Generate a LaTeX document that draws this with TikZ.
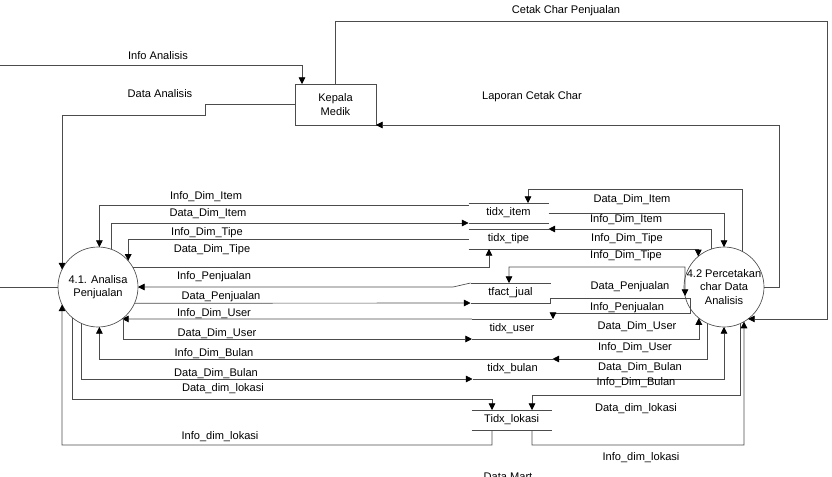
\documentclass[tikz,border=0pt]{standalone}
\usepackage{fontspec}
\setmainfont{Liberation Sans}
\usetikzlibrary{positioning,arrows.meta}

\begin{document}
\begin{tikzpicture}
[x=0.75pt,y=-0.75pt,
 every node/.style={font=\fontsize{8.3}{10}\selectfont,inner sep=0pt,outer sep=0pt,align=center},
 proc/.style={circle,draw=black!70,line width=0.5pt,minimum size=60pt,inner sep=-3pt},
 ent/.style={rectangle,draw=black!70,line width=0.5pt,minimum width=60.75pt,minimum height=30.75pt},
 store/.style={rectangle,minimum width=60pt,minimum height=15pt},
 wire/.style={draw=black!70,line width=0.5pt},
 flow/.style={wire,-{Triangle[length=5pt,width=5pt,color=black]}},
 flow2/.style={wire,{Triangle[length=5pt,width=5pt,color=black]}-{Triangle[length=5pt,width=5pt,color=black]}}]

\useasboundingbox (0,0) rectangle (832,476);

% entity and processes
\node[ent]  (km)  at (335.5,104.5) {Kepala\\Medik};
\node[proc] (p41) at (98,287)      {4.1. Analisa\\Penjualan};
\node[proc] (p42) at (724,287)     {4.2 Percetakan\\char Data\\Analisis};

% data stores
\node[store] (ti) at (508.5,213)                                   {tidx\_item};
\node[store] (tt) [on grid,below=19.5pt of ti]                     {tidx\_tipe};
\node[store] (tf) [on grid,below right=40.5pt and 1.5pt of tt]     {tfact\_jual};
\node[store] (tu) [on grid,below right=27pt and 1.1pt of tf]       {tidx\_user};
\node[store] (tb) [on grid,below right=30pt and 0.4pt of tu]       {tidx\_bulan};
\node[store] (tl) [on grid,below left=38.25pt and 0.6pt of tb]     {Tidx\_lokasi};

\draw[wire] (ti.north west) -- (ti.north east) (ti.south west) -- (ti.south east);
\draw[wire] (tt.north west) -- (tt.north east) (tt.south west) -- (tt.south east);
\draw[wire] (tf.north west) -- (tf.north east) (tf.south west) -- (tf.south east);
\draw[wire] (tu.north west) -- (tu.north east) (tu.south west) -- (tu.south east);
\draw[wire] (tb.north west) -- (tb.north east) (tb.south west) -- (tb.south east);
\draw[wire] (tl.north west) -- (tl.north east) (tl.south west) -- (tl.south east);

\coordinate (inA) at (0,65);
\coordinate (inP) at (0,287);

% Kepala Medik
\draw[flow] (inA) -| (302,0 |- km.north);
\draw[flow] (km.west) -| (205,115) -| (p41.154);
\draw[wire] (inP) -- (p41.west);
\draw[flow] (km.north) |- (827,21) |- (p42.-53);
\draw[flow] (p42.east) -| (779,125) -- (km.south east);

% 4.1 and the stores
\draw[flow] ([yshift=-1.5pt]ti.north west) -| (p41.88);
\draw[flow] (p41.70) |- (ti.south west);
\draw[flow] (tt.west) -| (p41.41);
\draw[flow] (p41.30) -| (489,0 |- tt.south);
\draw[flow] (tf.north west) -- (453,287) -- (p41.east);
\draw[flow] (p41.-24) -- (tf.south west);
\draw[flow] (tu.north west) -- (p41.-53);
\draw[flow] (p41.-50) |- (tu.south west);
\draw[flow] (tb.north west) -| (p41.-88);
\draw[flow] (p41.-115) |- (tb.south west);
\draw[flow] (p41.-130) |- (492,399) -- (492,0 |- tl.north);
\draw[flow] (492,0 |- tl.south) |- (62,445) -- (p41.-154);

% 4.2 and the stores
\draw[flow]  (p42.62) |- (528,189) -- (528,0 |- ti.north);
\draw[flow]  (ti.east) -| (p42.north);
\draw[flow]  (p42.109) |- (tt.north east);
\draw[flow]  (tt.south east) -| (p42.130);
\draw[flow2] (509,0 |- tf.north) |- (685,267) -- (p42.-167);
\draw[flow]  (tf.south east) |- (690,298) |- (553,313) -- (553,0 |- tu.north);
\draw[flow]  (tu.south east) -| (p42.-129);
\draw[flow]  (p42.-114) |- (tb.north east);
\draw[flow]  (tb.south east) -| (p42.south);
\draw[flow]  (p42.-66) |- (532,395) -- (532,0 |- tl.north);
\draw[flow]  (532,0 |- tl.south) |- (744,445) -- (p42.-60);

% labels
\node (lInfoA)  at (158,56)  {Info Analisis};
\node (lDataA)  at (160,94)  {Data Analisis};
\node (lCetak)  at (566,11)  {Cetak Char Penjualan};
\node (lLapor)  at (532,97)  {Laporan Cetak Char};

\node (lIDI1) at (206,197) {Info\_Dim\_Item};
\node (lDDI1) at (208,214) {Data\_Dim\_Item};
\node (lIDT1) at (207,233) {Info\_Dim\_Tipe};
\node (lDDT1) at (212,250) {Data\_Dim\_Tipe};
\node (lIP1)  at (214,277) {Info\_Penjualan};
\node (lDP1)  at (221,297) {Data\_Penjualan};
\node (lIDU1) at (214,314) {Info\_Dim\_User};
\node (lDDU1) at (217,334) {Data\_Dim\_User};
\node (lIDB1) at (214,354) {Info\_Dim\_Bulan};
\node (lDDB1) at (216,374) {Data\_Dim\_Bulan};
\node (lDDL1) at (223,389) {Data\_dim\_lokasi};
\node (lIDL1) at (220,437) {Info\_dim\_lokasi};

\node (lDDI2) at (632,200) {Data\_Dim\_Item};
\node (lIDI2) at (626,220) {Info\_Dim\_Item};
\node (lIDT2) at (627,239) {Info\_Dim\_Tipe};
\node (lIDT3) at (626,256) {Info\_Dim\_Tipe};
\node (lDP2)  at (630,287) {Data\_Penjualan};
\node (lIP2)  at (627,308) {Info\_Penjualan};
\node (lDDU2) at (637,327) {Data\_Dim\_User};
\node (lIDU2) at (635,348) {Info\_Dim\_User};
\node (lDDB2) at (640,368) {Data\_Dim\_Bulan};
\node (lIDB2) at (636,383) {Info\_Dim\_Bulan};
\node (lDDL2) at (636,409) {Data\_dim\_lokasi};
\node (lIDL2) at (641,458) {Info\_dim\_lokasi};

\node (lMart) at (508,477) {Data Mart};

\end{tikzpicture}
\end{document}
